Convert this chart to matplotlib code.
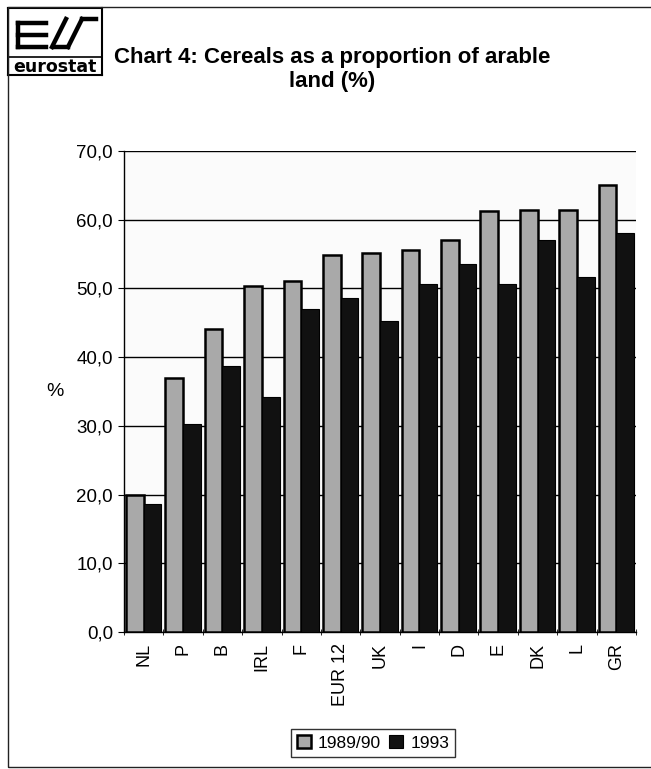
import numpy as np
import matplotlib
matplotlib.use('Agg')
import matplotlib.pyplot as plt
from matplotlib.patches import Rectangle
from matplotlib.ticker import FuncFormatter

plt.rcParams['font.family'] = ['Liberation Sans', 'DejaVu Sans']

# Cereals share of arable land, by country
countries = ['NL', 'P', 'B', 'IRL', 'F', 'EUR 12', 'UK', 'I', 'D', 'E', 'DK', 'L', 'GR']
share_1989 = [20.0, 37.0, 44.1, 50.3, 51.1, 54.9, 55.2, 55.6, 57.0, 61.2, 61.4, 61.4, 65.0]
share_1993 = [18.6, 30.3, 38.7, 34.2, 47.0, 48.6, 45.3, 50.7, 53.5, 50.7, 57.1, 51.6, 58.0]
series_labels = ['1989/90', '1993']

fig = plt.figure(figsize=(6.51, 7.69), dpi=100)
fig.patch.set_facecolor('white')

# outer frame
fig.add_artist(Rectangle((8 / 651, 0.003), 1.1, 0.988, transform=fig.transFigure,
                         fill=False, edgecolor='#222222', linewidth=1.0))

# eurostat logo box
logo = fig.add_axes([8 / 651, 1 - 75 / 769, 94 / 651, 67 / 769])
logo.set_xlim(0, 94)
logo.set_ylim(0, 67)
logo.set_xticks([])
logo.set_yticks([])
for s in logo.spines.values():
    s.set_linewidth(1.5)
lw = 3.2
logo.plot([10, 38], [52, 52], color='black', lw=lw)
logo.plot([10, 38], [40, 40], color='black', lw=lw)
logo.plot([10, 38], [28, 28], color='black', lw=lw)
logo.plot([10, 10], [28, 52], color='black', lw=lw)
logo.plot([44, 58], [28, 56], color='black', lw=lw)
logo.plot([60, 74], [28, 56], color='black', lw=lw)
logo.plot([74, 88], [56, 56], color='black', lw=lw)
logo.plot([46, 60], [28, 28], color='black', lw=lw)
logo.plot([0, 94], [18, 18], color='black', lw=1.2)
logo.text(47, 8, 'eurostat', ha='center', va='center', fontsize=12.5,
          fontweight='bold', family='Liberation Sans Narrow')

fig.text(332 / 651, 1 - 57 / 769, 'Chart 4: Cereals as a proportion of arable',
         ha='center', va='center', fontsize=16, fontweight='bold')
fig.text(332 / 651, 1 - 82 / 769, 'land (%)', ha='center', va='center',
         fontsize=16, fontweight='bold')

ax = fig.add_axes([124 / 651, 1 - 632 / 769, 512 / 651, 481 / 769])
ax.set_facecolor('#fbfbfb')

x = np.arange(len(countries))
w = 0.45
ax.bar(x - w / 2, share_1989, width=w, color='#a9a9a9', edgecolor='black',
       linewidth=1.8, label=series_labels[0], zorder=3)
ax.bar(x + w / 2, share_1993, width=w, color='#111111', edgecolor='black',
       linewidth=0.8, label=series_labels[1], zorder=3)

ax.set_xlim(-0.5, len(countries) - 0.5)
ax.set_ylim(0, 70)
ax.set_yticks(np.arange(0, 71, 10))
ax.yaxis.set_major_formatter(FuncFormatter(lambda v, p: f'{v:.1f}'.replace('.', ',')))
ax.yaxis.grid(True, color='black', linewidth=1.0, zorder=0)
ax.set_axisbelow(True)

ax.set_xticks(x)
ax.set_xticklabels(countries, rotation=90, fontsize=13)
ax.set_xticks(np.arange(-0.5, len(countries)), minor=True)
ax.tick_params(axis='x', which='major', length=0, pad=8)
ax.tick_params(axis='x', which='minor', length=4, direction='inout')
ax.tick_params(axis='y', length=4, labelsize=13.5, pad=4)

for side in ['top', 'right']:
    ax.spines[side].set_visible(False)
ax.spines['left'].set_linewidth(1.0)
ax.spines['bottom'].set_linewidth(1.0)

ax.set_ylabel('%', fontsize=14, rotation=0, va='center')
ax.yaxis.set_label_coords(-0.135, 0.5)

leg = fig.legend(loc='center', bbox_to_anchor=(373 / 651, 1 - 743 / 769), ncol=2,
                 frameon=True, fancybox=False, edgecolor='black', fontsize=12.5,
                 handlelength=0.8, handleheight=0.8, handletextpad=0.4,
                 columnspacing=0.5, borderpad=0.35)
leg.get_frame().set_linewidth(1.0)

fig.savefig('out.png', dpi=100, facecolor='white')
